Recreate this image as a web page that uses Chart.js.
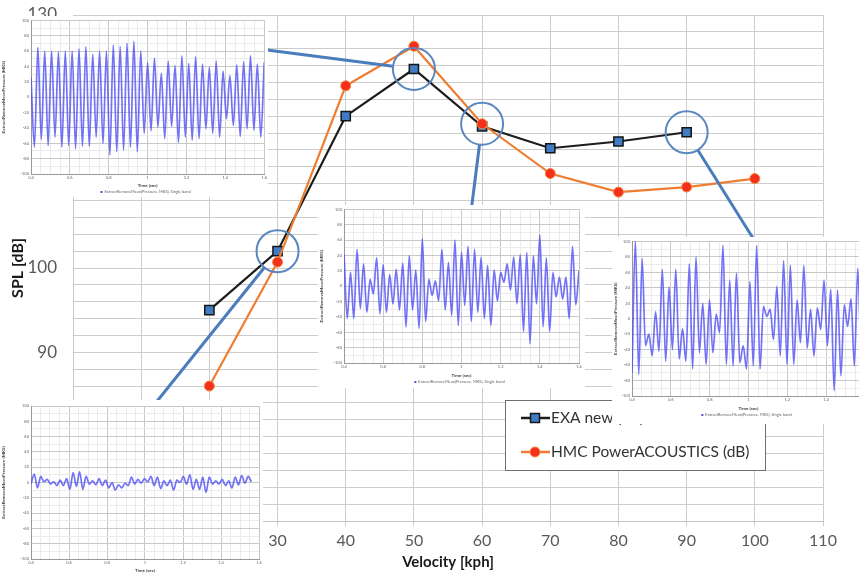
<!DOCTYPE html>
<html>
<head>
<meta charset="utf-8">
<script src="https://cdn.jsdelivr.net/npm/chart.js@4.4.1/dist/chart.umd.min.js"></script>
<style>
html, body { margin: 0; padding: 0; overflow: hidden; background: #fff; }
#wrap { position: relative; width: 859px; height: 575px; overflow: hidden; }
canvas { display: block; }
.inset { position: absolute; background: #fff; overflow: hidden; }
</style>
</head>
<body>
<div id="wrap">
  <canvas id="main" width="859" height="575"></canvas>
  <div class="inset" style="left:0px;top:16px;width:268px;height:181px"><canvas id="insetA" width="268" height="181"></canvas></div>
  <div class="inset" style="left:318px;top:205px;width:267px;height:183px"><canvas id="insetB" width="267" height="183"></canvas></div>
  <div class="inset" style="left:612px;top:237px;width:261px;height:187px"><canvas id="insetC" width="261" height="187"></canvas></div>
  <div class="inset" style="left:0px;top:400px;width:263px;height:178px"><canvas id="insetD" width="263" height="178"></canvas></div>
</div>
<script>
// main chart values
const velocity = [20, 30, 40, 50, 60, 70, 80, 90, 100];
const exaNew = [95, 102, 118, 123.6, 116.8, 114.2, 115, 116.1];
const hmcPower = [86, 100.7, 121.6, 126.3, 117.1, 111.2, 109, 109.6, 110.6];
const seriesNames = ['EXA new (dB)', 'HMC PowerACOUSTICS (dB)'];

// circled points: [series index, velocity]
const calloutSeries = [0, 1, 0, 0];
const calloutSpeed = [50, 60, 90, 30];

// pressure traces in the small plots (peaks / troughs, Pa)
const waveA = [26, -65, 65, -55, 60, -63, 60, -52, 59, -65, 60, -63, 60, -67, 63, -64, 66, -64, 56, -52, 60,
  -60, 60, -75, 68, -71, 66, -69, 70, -65, 73, -71, 60, -47, 45, -44, 51, -39, 31, -54, 47, -38, 41, -59, 54,
  -52, 44, -56, 53, -54, 43, -41, 39, -47, 47, -52, 34, -28, 28, -37, 42, -51, 46, -41, 54, -43, 43, -52, 45];
const waveB = [42, -42, 18, -42, 48, -29, 29, -34, 9, -10, 37, -36, 28, -34, 15, -23, 22, -31, 30, -53, 40,
  -31, 21, -55, 62, -46, 9, -12, 7, -19, 48, -31, 31, -38, 60, -51, 44, -25, 52, -46, 48, -34, 38, -42, 27,
  -51, 21, -19, 18, 5, 29, -5, 38, -23, 41, -59, 44, -75, 40, -23, 67, -53, 37, -59, 18, -14, 12, -17, 12,
  -42, 52, -24, 20];
const waveC = [-70, 101, -72, 78, -35, -20, -48, 9, -42, 64, -55, 41, -40, 64, -52, -13, -55, 71, -65, 80,
  -44, 20, -59, 24, -44, 6, -18, 95, -59, 50, -61, 59, -57, -35, -65, 48, -61, 95, -65, 16, 3, 12, -27, 42,
  -48, 75, -59, 69, -59, 24, -31, 69, -38, 12, -48, 14, -14, 50, -35, 38, -93, 37, -74, 18, -10, 26, -61, 65, -70];
const waveD = [-2, 11, -7, 8, 1, 4, -2, 1, -4, 3, -4, 5, -9, 13, -5, 14, -9, 8, -2, 2, -3, 5, -4, 3, -7, 0,
  -10, -3, -7, -1, -4, 7, -2, 4, -1, 5, 1, 8, -4, 7, -8, 2, -4, 3, -10, 3, 0, 8, -2, 10, -9, 4, -9, 7, -13, 7,
  -2, 2, -2, 4, -4, 2, -7, 7, -3, 9, -1, 8, 1];
const waveEnd = [1.6, 1.6, 1.58, 1.56];

const insetLegendText = 'ExtractRemoveMean(Pressure, MKS), Single band';

Chart.defaults.font.family = 'Lato, "Open Sans", sans-serif';

// where the leader lines go (edge of each small plot)
const leaderEnds = [[267, 50], [471, 212], [756, 243], [150, 410]];

const callouts = {
  id: 'callouts',
  afterDatasetsDraw(chart) {
    const ctx = chart.ctx;
    const xs = chart.scales.x, ys = chart.scales.y;
    const series = [exaNew, hmcPower];
    ctx.save();
    calloutSpeed.forEach((sp, i) => {
      const cx = xs.getPixelForValue(sp);
      const cy = ys.getPixelForValue(series[calloutSeries[i]][velocity.indexOf(sp)]);
      const r = 21;
      const [ex, ey] = leaderEnds[i];
      const d = Math.hypot(ex - cx, ey - cy);
      ctx.strokeStyle = '#4a7dbb';
      ctx.lineWidth = 3;
      ctx.beginPath();
      ctx.moveTo(cx + (ex - cx) / d * r, cy + (ey - cy) / d * r);
      ctx.lineTo(ex, ey);
      ctx.stroke();
      ctx.strokeStyle = '#5a87bf';
      ctx.lineWidth = 2;
      ctx.beginPath();
      ctx.arc(cx, cy, r, 0, Math.PI * 2);
      ctx.stroke();
    });
    ctx.restore();
  }
};

const boxLegend = {
  id: 'boxLegend',
  afterDraw(chart) {
    const ctx = chart.ctx;
    ctx.save();
    ctx.fillStyle = '#fff';
    ctx.fillRect(505, 400, 260, 70);
    ctx.strokeStyle = '#6f6f6f';
    ctx.lineWidth = 1;
    ctx.strokeRect(505.5, 400.5, 260, 70);
    chart.data.datasets.forEach((ds, i) => {
      const y = 418 + i * 34;
      ctx.strokeStyle = ds.borderColor;
      ctx.lineWidth = 2.5;
      ctx.beginPath();
      ctx.moveTo(521, y);
      ctx.lineTo(550, y);
      ctx.stroke();
      ctx.fillStyle = ds.pointBackgroundColor;
      ctx.strokeStyle = ds.pointBorderColor;
      ctx.lineWidth = ds.pointBorderWidth;
      ctx.beginPath();
      if (ds.pointStyle === 'rect') {
        ctx.rect(530.5, y - 4.5, 9, 9);
      } else {
        ctx.arc(535, y, 5, 0, Math.PI * 2);
      }
      ctx.fill();
      ctx.stroke();
      ctx.fillStyle = '#333';
      ctx.font = '15.5px Lato, "Open Sans", sans-serif';
      ctx.textBaseline = 'middle';
      ctx.fillText(ds.label, 551, y);
    });
    ctx.restore();
  }
};

const pts = (xs, ys) => ys.map((v, i) => ({ x: xs[i], y: v }));

new Chart(document.getElementById('main'), {
  type: 'line',
  data: {
    datasets: [
      { label: seriesNames[0], data: pts(velocity, exaNew), borderColor: '#1c1c1c', borderWidth: 2.2,
        pointStyle: 'rect', pointRadius: 6.5, pointBackgroundColor: '#3f7cc4', pointBorderColor: '#161616',
        pointBorderWidth: 1.5, order: 1 },
      { label: seriesNames[1], data: pts(velocity, hmcPower), borderColor: '#ee7d31', borderWidth: 2.2,
        pointStyle: 'circle', pointRadius: 5, pointBackgroundColor: '#f4301c', pointBorderColor: '#f08a3c',
        pointBorderWidth: 1, order: 0 }
    ]
  },
  options: {
    responsive: false, animation: false, devicePixelRatio: 1,
    layout: { padding: { top: 15, right: 36, bottom: 0, left: 0 } },
    plugins: { legend: { display: false }, tooltip: { enabled: false } },
    scales: {
      x: {
        type: 'linear', min: 0, max: 110,
        ticks: { stepSize: 10, autoSkip: false, maxRotation: 0, color: '#595959', font: { size: 16 }, padding: 5 },
        grid: { color: '#cccccc', tickLength: 5 },
        border: { color: '#c4c4c4' },
        title: { display: true, text: 'Velocity [kph]', color: '#1a1a1a', font: { size: 15, weight: 'bold' }, padding: { top: 0, bottom: 4 } },
        afterFit: s => { s.height = 54; }
      },
      y: {
        min: 70, max: 130,
        ticks: { stepSize: 2, autoSkip: false, color: '#595959', font: { size: 17 }, padding: 3,
          callback: v => (v % 10 === 0 ? v : '') },
        grid: { color: '#cccccc', tickLength: 13, tickColor: 'rgba(0,0,0,0)' },
        border: { color: '#cccccc' },
        title: { display: true, text: 'SPL [dB]', color: '#1a1a1a', font: { size: 16, weight: 'bold' }, padding: { top: 8, bottom: 0 } },
        afterFit: s => { s.width = 73; }
      }
    }
  },
  plugins: [callouts, boxLegend]
});

// ---- the four small pressure-trace plots ----
const insetLegend = {
  id: 'insetLegend',
  afterDraw(chart) {
    const { ctx, chartArea } = chart;
    const cx = (chartArea.left + chartArea.right) / 2;
    const y = chartArea.bottom + chart.options.plugins.insetLegend.offset;
    ctx.save();
    ctx.font = '4px Lato, sans-serif';
    ctx.textBaseline = 'middle';
    const w = ctx.measureText(insetLegendText).width;
    ctx.fillStyle = '#5050f0';
    ctx.fillRect(cx - w / 2 - 4, y - 1, 2, 2);
    ctx.fillStyle = '#666';
    ctx.fillText(insetLegendText, cx - w / 2, y);
    ctx.restore();
  }
};

const isMajorT = v => Math.abs(v * 5 - Math.round(v * 5)) < 1e-6;

const insetBoxes = [
  { id: 'insetA', yw: 31, top: 3, right: 3, xh: 14, bottom: 9 },
  { id: 'insetB', yw: 26, top: 3, right: 6, xh: 15, bottom: 10 },
  { id: 'insetC', yw: 20, top: 4, right: 8, xh: 15, bottom: 13 },
  { id: 'insetD', yw: 31, top: 6, right: 4, xh: 14, bottom: 5 }
];
const waves = [waveA, waveB, waveC, waveD];

insetBoxes.forEach((b, k) => {
  const vals = waves[k];
  const tEnd = waveEnd[k];
  const data = vals.map((v, i) => ({ x: 0.4 + i * (tEnd - 0.4) / (vals.length - 1), y: v }));
  new Chart(document.getElementById(b.id), {
    type: 'line',
    data: { datasets: [{ data, borderColor: 'rgba(80,80,245,0.8)', borderWidth: 1.7, pointRadius: 0,
      cubicInterpolationMode: 'monotone' }] },
    options: {
      responsive: false, animation: false, devicePixelRatio: 1,
      layout: { padding: { top: b.top, right: b.right, bottom: b.bottom, left: 0 } },
      plugins: { legend: { display: false }, tooltip: { enabled: false }, insetLegend: { offset: b.xh + 4 } },
      scales: {
        x: {
          type: 'linear', min: 0.4, max: 1.6,
          ticks: { stepSize: 0.05, autoSkip: false, maxRotation: 0, color: '#666', font: { size: 4 }, padding: 1,
            callback: v => (isMajorT(v) ? String(+v.toFixed(1)) : '') },
          grid: { drawTicks: false, color: c => (isMajorT(c.tick.value) ? '#c8c8c8' : '#ebebeb') },
          border: { color: '#999' },
          title: { display: true, text: 'Time (sec)', color: '#444', font: { size: 4.5, weight: 'bold' }, padding: 0 },
          afterFit: s => { s.height = b.xh; }
        },
        y: {
          min: -100, max: 100,
          ticks: { stepSize: 10, autoSkip: false, color: '#666', font: { size: 4 }, padding: 2,
            callback: v => (v % 20 === 0 ? v : '') },
          grid: { drawTicks: false, color: c => (c.tick.value % 20 === 0 ? '#c8c8c8' : '#ebebeb') },
          border: { color: '#999' },
          title: { display: true, text: 'ExtractRemoveMeanPressure (MKS)', color: '#444', font: { size: 4.5, weight: 'bold' }, padding: 1 },
          afterFit: s => { s.width = b.yw; }
        }
      }
    },
    plugins: [insetLegend]
  });
});
</script>
</body>
</html>
